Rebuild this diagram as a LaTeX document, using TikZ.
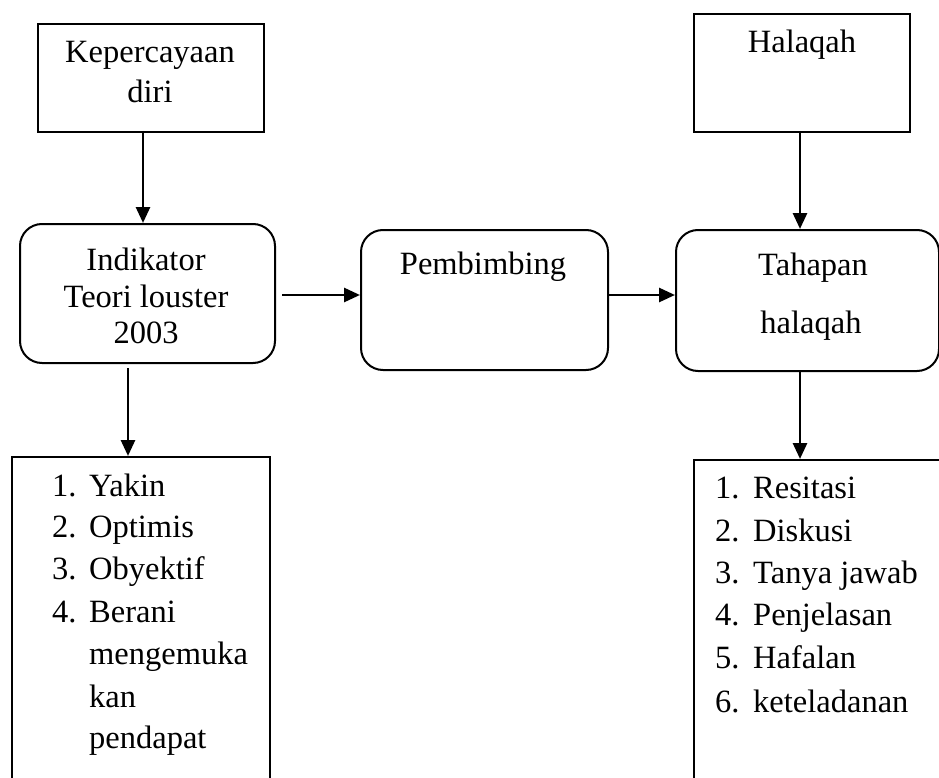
\documentclass[tikz,border=0pt]{standalone}
\usepackage{fontspec}
\setmainfont{Liberation Serif}
\usetikzlibrary{arrows.meta,calc}
\begin{document}
\begin{tikzpicture}[x=1pt,y=-1pt,
  boxsq/.style={draw=black,line width=2pt,rectangle,inner sep=0pt,anchor=north west},
  boxrd/.style={draw=black,line width=2pt,rectangle,rounded corners=22pt,inner sep=0pt,anchor=north west},
  txt/.style={inner sep=0pt,anchor=base,font=\fontsize{32.5}{37}\selectfont},
  txtw/.style={inner sep=0pt,anchor=base west,font=\fontsize{32.5}{37}\selectfont},
  arr/.style={line width=2.8pt,-{Triangle[length=16pt,width=14pt]}},
]
\useasboundingbox (0,0) rectangle (939,778);
\clip (0,0) rectangle (939,778);
% boxes
\node[boxsq,minimum width=226pt,minimum height=108pt] (kep) at (37,23) {};
\node[boxsq,minimum width=216pt,minimum height=118pt] (hal) at (693,13) {};
\node[boxrd,minimum width=255pt,minimum height=139pt] (ind) at (19,223) {};
\node[boxrd,minimum width=247pt,minimum height=140pt] (pem) at (360,229) {};
\node[boxrd,minimum width=263pt,minimum height=141pt] (tah) at (675,229) {};
\node[boxsq,minimum width=258pt,minimum height=360pt] (lstL) at (11,456) {};
\node[boxsq,minimum width=270pt,minimum height=360pt] (lstR) at (693,459) {};
% texts
\node[txt] (t1) at (150,63) {Kepercayaan};
\node[txt] (t2) at (150,103) {diri};
\node[txt] (t3) at (802,53) {Halaqah};
\node[txt] (t4) at (146,270) {Indikator};
\node[txt] (t5) at (146,307) {Teori louster};
\node[txt] (t6) at (146,343) {2003};
\node[txt] (t7) at (483,274) {Pembimbing};
\node[txt] (t8) at (813,275) {Tahapan};
\node[txt] (t9) at (811,333) {halaqah};
% left list
\node[txtw] (l1n) at (52,496) {1.};
\node[txtw] (l1) at (89,496) {Yakin};
\node[txtw] (l2n) at (52,537) {2.};
\node[txtw] (l2) at (89,537) {Optimis};
\node[txtw] (l3n) at (52,579) {3.};
\node[txtw] (l3) at (89,579) {Obyektif};
\node[txtw] (l4n) at (52,622) {4.};
\node[txtw] (l4) at (89,622) {Berani};
\node[txtw] (l5) at (89,664) {mengemuka};
\node[txtw] (l6) at (89,707) {kan};
\node[txtw] (l7) at (89,748) {pendapat};
% right list
\node[txtw] (r1n) at (715,498) {1.};
\node[txtw] (r1) at (753,498) {Resitasi};
\node[txtw] (r2n) at (715,541) {2.};
\node[txtw] (r2) at (753,541) {Diskusi};
\node[txtw] (r3n) at (715,583) {3.};
\node[txtw] (r3) at (753,583) {Tanya jawab};
\node[txtw] (r4n) at (715,625) {4.};
\node[txtw] (r4) at (753,625) {Penjelasan};
\node[txtw] (r5n) at (715,668) {5.};
\node[txtw] (r5) at (753,668) {Hafalan};
\node[txtw] (r6n) at (715,712) {6.};
\node[txtw] (r6) at (753,712) {keteladanan};
% connectors
\coordinate (c1) at (143,131);
\draw[arr] (c1) -- (c1 |- ind.north);
\coordinate (c2) at (800,131);
\draw[arr] (c2) -- (c2 |- tah.north);
\coordinate (c3) at (282,295);
\draw[arr] (c3) -- (c3 -| pem.west);
\draw[arr] (pem.east |- c3) -- (tah.west |- c3);
\coordinate (c4) at (128,368);
\draw[arr] (c4) -- (c4 |- lstL.north);
\coordinate (c5) at (800,370);
\draw[arr] (c5) -- (c5 |- lstR.north);
\end{tikzpicture}
\end{document}
